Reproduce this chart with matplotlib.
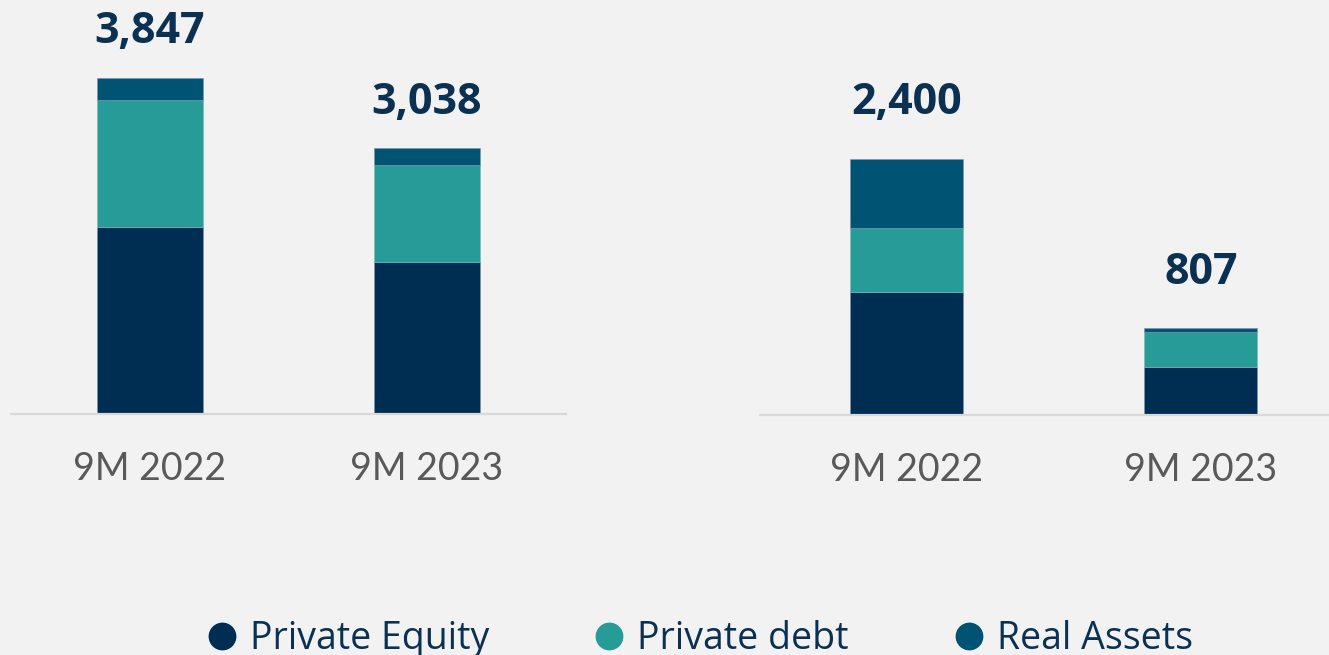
import matplotlib
matplotlib.use("Agg")
import matplotlib.pyplot as plt
from matplotlib.lines import Line2D
import numpy as np

categories = ["9M 2022", "9M 2023"]
series_names = ["Private Equity", "Private debt", "Real Assets"]
colors = ["#002e52", "#269b98", "#005373"]

# Left panel values
left_pe = [2141, 1729]
left_pd = [1443, 1122]
left_ra = [263, 187]
left_totals = ["3,847", "3,038"]

# Right panel values
right_pe = [1144, 450]
right_pd = [600, 328]
right_ra = [656, 29]
right_totals = ["2,400", "807"]

BG = "#f2f2f2"
W, H = 1329, 655
fig = plt.figure(figsize=(W / 100, H / 100), dpi=100, facecolor=BG)

ax1 = fig.add_axes([11 / W, (655 - 413.5) / H, (566 - 11) / W, 413.5 / H])
ax2 = fig.add_axes([760 / W, (655 - 414.5) / H, (1329 - 760) / W, 414.5 / H])


def draw(ax, pe, pd, ra, totals, ymax, xlim, width, gap_pts):
    ax.set_facecolor(BG)
    x = np.arange(len(categories))
    pe = np.array(pe); pd = np.array(pd); ra = np.array(ra)
    ax.bar(x, pe, width, color=colors[0], edgecolor="#7f95a8", linewidth=0.4)
    ax.bar(x, pd, width, bottom=pe, color=colors[1], edgecolor="#7fb8b8", linewidth=0.4)
    ax.bar(x, ra, width, bottom=pe + pd, color=colors[2], edgecolor="#7f95a8", linewidth=0.4)
    tot = pe + pd + ra
    for xi, t, lab in zip(x, tot, totals):
        ax.annotate(lab, (xi, t), xytext=(0, gap_pts), textcoords="offset points",
                    ha="center", va="center", fontsize=31, fontweight="bold",
                    family="Open Sans", color="#0b3152")
    ax.set_xlim(*xlim)
    ax.set_ylim(0, ymax)
    for s in ["top", "right", "left"]:
        ax.spines[s].set_visible(False)
    ax.spines["bottom"].set_color("#d9d9d9")
    ax.spines["bottom"].set_linewidth(1.6)
    ax.set_yticks([])
    ax.set_xticks(x)
    ax.set_xticklabels(categories, fontsize=27, family="Lato", fontweight="normal",
                       color="#595959")
    ax.tick_params(axis="x", length=0, pad=27)


draw(ax1, left_pe, left_pd, left_ra, left_totals, 413.5 * 11.45,
     (-0.502, 1.502), 0.383, 33)
draw(ax2, right_pe, right_pd, right_ra, right_totals, 414.5 * 9.375,
     (-0.497, 1.435), 0.384, 40)

handles = [Line2D([0], [0], marker="o", linestyle="none", markersize=19,
                  markerfacecolor=c, markeredgecolor=c) for c in colors]
leg = fig.legend(handles, series_names, loc="center", bbox_to_anchor=(0.525, 0.024),
                 ncol=3, frameon=False, handletextpad=0.25,
                 columnspacing=2.7, handlelength=1.0,
                 prop={"family": "Open Sans", "size": 27})
for t in leg.get_texts():
    t.set_color("#0b3152")

fig.savefig("out.png", dpi=100, facecolor=BG)
